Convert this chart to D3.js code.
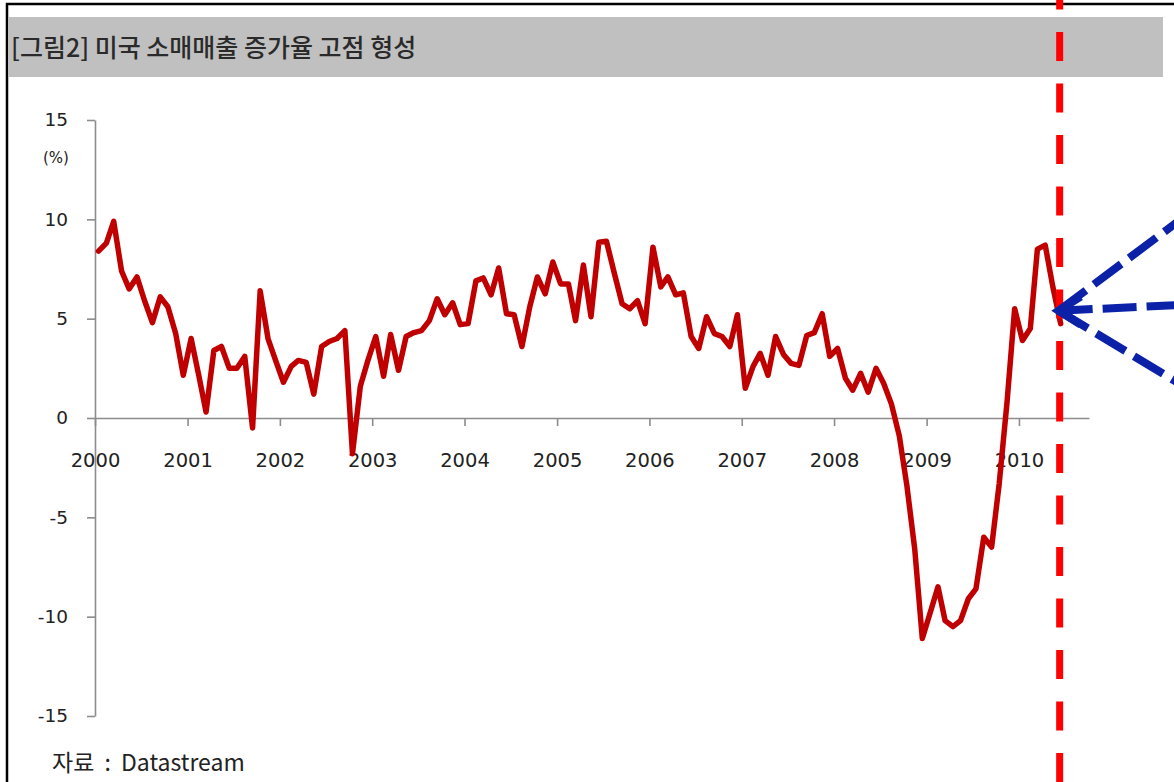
<!DOCTYPE html>
<html>
<head>
<meta charset="utf-8">
<script src="https://cdn.jsdelivr.net/npm/d3@7/dist/d3.min.js"></script>
<style>
  body { margin: 0; background: #fff; }
  svg { display: block; }
</style>
</head>
<body>
<div id="chart"></div>
<script>
// US retail sales growth, YoY %, monthly
var g2000 = [8.4, 8.8, 9.9, 7.4, 6.5, 7.1, 5.9, 4.8, 6.1, 5.6, 4.25, 2.15];
var g2001 = [4.0, 2.1, 0.3, 3.4, 3.6, 2.5, 2.5, 3.1, -0.5, 6.4, 4.0, 2.9];
var g2002 = [1.8, 2.6, 2.9, 2.8, 1.2, 3.6, 3.85, 4.0, 4.4, -1.8, 1.6, 2.9];
var g2003 = [4.1, 2.1, 4.2, 2.4, 4.1, 4.3, 4.4, 4.9, 6.0, 5.2, 5.8, 4.7];
var g2004 = [4.75, 6.9, 7.05, 6.2, 7.55, 5.25, 5.2, 3.6, 5.6, 7.1, 6.25, 7.85];
var g2005 = [6.75, 6.75, 4.9, 7.7, 5.1, 8.85, 8.9, 7.3, 5.75, 5.5, 5.9, 4.75];
var g2006 = [8.6, 6.6, 7.1, 6.2, 6.3, 4.1, 3.5, 5.1, 4.25, 4.1, 3.6, 5.2];
var g2007 = [1.5, 2.6, 3.25, 2.15, 4.1, 3.2, 2.75, 2.65, 4.15, 4.3, 5.25, 3.1];
var g2008 = [3.5, 2.0, 1.4, 2.25, 1.3, 2.5, 1.75, 0.7, -0.9, -3.4, -6.6, -11.1];
var g2009 = [-9.8, -8.5, -10.2, -10.5, -10.2, -9.1, -8.6, -6.0, -6.5, -3.3, 0.8, 5.5];
var g2010 = [3.9, 4.5, 8.5, 8.7, 6.6, 4.75];

var yearTicks = [2000, 2001, 2002, 2003, 2004, 2005, 2006, 2007, 2008, 2009, 2010];
var yTicks = [-15, -10, -5, 0, 5, 10, 15];

var titleText = "[그림2] 미국 소매매출 증가율 고점 형성";
var sourceText = "자료 : Datastream";
var unitText = "(%)";

var width = 1174, height = 782;

var allValues = [].concat(g2000, g2001, g2002, g2003, g2004, g2005, g2006, g2007, g2008, g2009, g2010);
var data = allValues.map(function(v, i) {
  return { date: new Date(2000 + Math.floor(i / 12), i % 12, 15), value: v };
});

var svg = d3.select("#chart").append("svg")
  .attr("width", width)
  .attr("height", height);

svg.append("rect").attr("width", width).attr("height", height).attr("fill", "#fff");

// frame + title bar
svg.append("path")
  .attr("d", "M7,790V4H1180")
  .attr("fill", "none")
  .attr("stroke", "#000")
  .attr("stroke-width", 2.5);

svg.append("rect")
  .attr("x", 8).attr("y", 17)
  .attr("width", 1155).attr("height", 60)
  .attr("fill", "#c0c0c0");

svg.append("text")
  .attr("x", 11).attr("y", 57)
  .attr("font-family", "'Noto Sans CJK KR', 'Noto Sans', sans-serif")
  .attr("font-size", 25)
  .attr("font-weight", 500)
  .attr("fill", "#2a2a2a")
  .text(titleText);

// scales
var x = d3.scaleTime()
  .domain([new Date(2000, 0, 1), new Date(2010, 9, 5)])
  .range([95, 1089]);

var y = d3.scaleLinear()
  .domain([-15, 15])
  .range([716, 120]);

// axes
var yAxis = d3.axisLeft(y).tickValues(yTicks)
  .tickFormat(function(d) { return String(d); })
  .tickSize(8).tickSizeOuter(0).tickPadding(19);
var xAxis = d3.axisBottom(x)
  .tickValues(yearTicks.map(function(yr) { return new Date(yr, 0, 1); }))
  .tickFormat(d3.timeFormat("%Y"))
  .tickSize(8).tickSizeOuter(0).tickPadding(27);

var gy = svg.append("g")
  .attr("transform", "translate(95,0)")
  .call(yAxis);

var gx = svg.append("g")
  .attr("transform", "translate(0," + y(0) + ")")
  .call(xAxis);

[gx, gy].forEach(function(g) {
  g.selectAll("path, line").attr("stroke", "#8c8c8c").attr("stroke-width", 1.6);
  g.selectAll("text")
    .attr("fill", "#222")
    .attr("font-family", "'DejaVu Sans', Verdana, sans-serif");
});
gy.selectAll("text").attr("font-size", 18.5);
gx.selectAll("text").attr("font-size", 19.5);

svg.append("text")
  .attr("x", 56).attr("y", 163)
  .attr("text-anchor", "middle")
  .attr("font-family", "'DejaVu Sans', Verdana, sans-serif")
  .attr("font-size", 15)
  .attr("fill", "#222")
  .text(unitText);

// the series
var line = d3.line()
  .x(function(d) { return x(d.date); })
  .y(function(d) { return y(d.value); });

svg.append("path")
  .datum(data)
  .attr("d", line)
  .attr("fill", "none")
  .attr("stroke", "#c00000")
  .attr("stroke-width", 5.5)
  .attr("stroke-linejoin", "round")
  .attr("stroke-linecap", "round");

// red dashed marker at latest month
var last = data[data.length - 1];
var lx = x(last.date) - 1;
svg.append("line")
  .attr("x1", lx).attr("x2", lx)
  .attr("y1", -19.5).attr("y2", height)
  .attr("stroke", "#ff0000")
  .attr("stroke-width", 7)
  .attr("stroke-dasharray", "29 22.5");

// blue dashed arrows pointing at the last point
var tip = [lx - 1, y(5.4)];
var ends = [[1180, 220], [1180, 305], [1180, 384]];
ends.forEach(function(e) {
  svg.append("line")
    .attr("x1", tip[0]).attr("y1", tip[1])
    .attr("x2", e[0]).attr("y2", e[1])
    .attr("stroke", "#0b22a8")
    .attr("stroke-width", 8)
    .attr("stroke-dasharray", "34 10");
});
svg.append("path")
  .attr("d", "M" + (tip[0] + 22) + "," + (tip[1] - 14) + "L" + tip[0] + "," + tip[1] + "L" + (tip[0] + 22) + "," + (tip[1] + 14))
  .attr("fill", "none")
  .attr("stroke", "#0b22a8")
  .attr("stroke-width", 8)
  .attr("stroke-linejoin", "miter");

// source note
svg.append("text")
  .attr("x", 52).attr("y", 771)
  .attr("font-family", "'Noto Sans CJK KR', 'Noto Sans', sans-serif")
  .attr("font-size", 23)
  .attr("word-spacing", 5)
  .attr("fill", "#222")
  .text(sourceText);
</script>
</body>
</html>
